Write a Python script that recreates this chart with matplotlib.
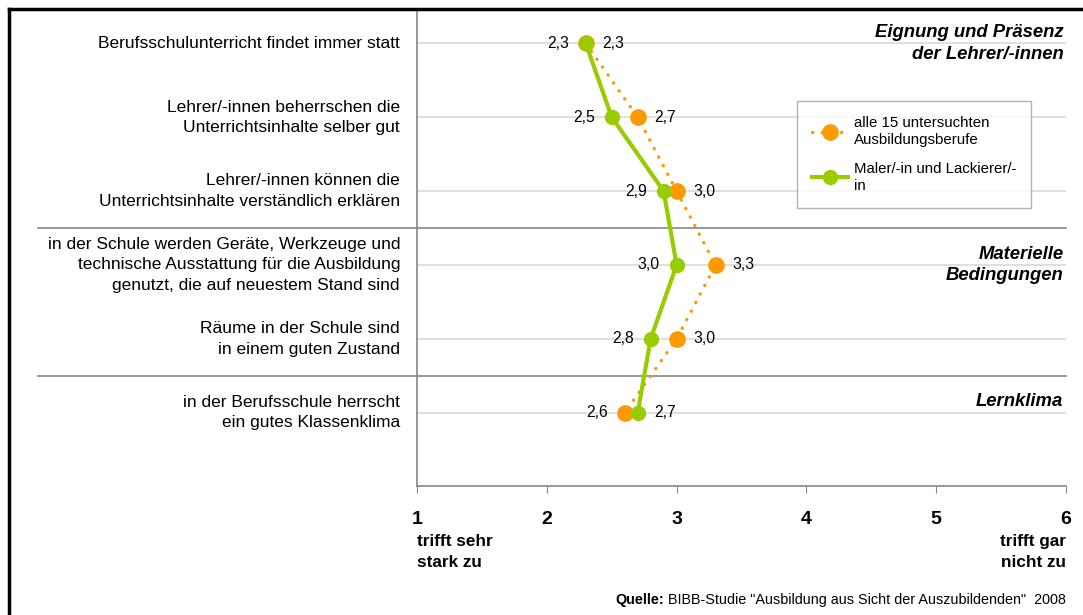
import matplotlib
matplotlib.use("Agg")
import matplotlib.pyplot as plt
from matplotlib.lines import Line2D

plt.rcParams['font.family'] = ['Liberation Sans', 'DejaVu Sans']

# --- data ---
items = [
    "Berufsschulunterricht findet immer statt",
    "Lehrer/-innen beherrschen die\nUnterrichtsinhalte selber gut",
    "Lehrer/-innen können die\nUnterrichtsinhalte verständlich erklären",
    "in der Schule werden Geräte, Werkzeuge und\ntechnische Ausstattung für die Ausbildung\ngenutzt, die auf neuestem Stand sind",
    "Räume in der Schule sind\nin einem guten Zustand",
    "in der Berufsschule herrscht\nein gutes Klassenklima",
]
alle_berufe = [2.3, 2.7, 3.0, 3.3, 3.0, 2.6]
maler = [2.3, 2.5, 2.9, 3.0, 2.8, 2.7]
series_names = ["alle 15 untersuchten\nAusbildungsberufe", "Maler/-in und Lackierer/-\nin"]
sections = ["Eignung und Präsenz\nder Lehrer/-innen", "Materielle\nBedingungen", "Lernklima"]
section_rows = [0, 3, 4.85]
section_breaks = [2.5, 4.5]
xticks = [1, 2, 3, 4, 5, 6]

ORANGE = '#FF9900'
GREEN = '#99CC00'
GRID = '#D9D9D9'
DARK = '#868686'

fig = plt.figure(figsize=(10.83, 6.15), dpi=100)
ax = fig.add_axes([417 / 1083, 1 - 486 / 615, (1066 - 417) / 1083, 476 / 615])

rows = list(range(len(items)))
ax.set_xlim(1, 6)
ax.set_ylim(5.99, -0.45)

# light gridlines at each item
for r in rows:
    ax.axhline(r, color=GRID, lw=1.2, zorder=0)

ax.plot(alle_berufe, rows, color=ORANGE, lw=2.4, ls=(0, (0.1, 2.8)), dash_capstyle='round',
        marker='o', ms=11, mec=ORANGE, zorder=2, label=series_names[0])
ax.plot(maler, rows, color=GREEN, lw=3, marker='o', ms=10, mec=GREEN, zorder=3,
        label=series_names[1])

# data labels: smaller value on the left
for r, a, m in zip(rows, alle_berufe, maler):
    a_right = a >= m
    ax.annotate(f"{a:.1f}".replace('.', ','), (a, r), xytext=(12 if a_right else -12, 0),
                textcoords='offset points', ha='left' if a_right else 'right', va='center',
                fontsize=11.3)
    ax.annotate(f"{m:.1f}".replace('.', ','), (m, r), xytext=(-12 if a_right else 12, 0),
                textcoords='offset points', ha='right' if a_right else 'left', va='center',
                fontsize=11.3)

# item labels on the left
for r, t in zip(rows, items):
    ax.text(-17 / 649, r, t, transform=ax.get_yaxis_transform(), ha='right', va='center',
            fontsize=12.5, linespacing=1.44)

# section breaks extend into label area
for b in section_breaks:
    ax.plot([-(417 - 38) / 649, 1], [b, b], transform=ax.get_yaxis_transform(),
            color=DARK, lw=1.2, clip_on=False, zorder=1)

# section titles
for r, s in zip(section_rows, sections):
    ax.text(0.996, r, s, transform=ax.get_yaxis_transform(), ha='right', va='center',
            fontsize=13.3, fontweight='bold', fontstyle='italic', linespacing=1.36)

# axes styling
for sp in ['top', 'right']:
    ax.spines[sp].set_visible(False)
for sp in ['left', 'bottom']:
    ax.spines[sp].set_color(DARK)
    ax.spines[sp].set_linewidth(1.2)
ax.set_yticks([])
ax.set_xticks(xticks)
ax.set_xticklabels([str(x) for x in xticks], fontsize=14, fontweight='bold')
ax.tick_params(axis='x', length=5, color=DARK, pad=13)

ax.text(0, -0.1, "trifft sehr\nstark zu", transform=ax.transAxes, ha='left', va='top',
        fontsize=12.3, fontweight='bold', linespacing=1.5)
ax.text(1, -0.1, "trifft gar\nnicht zu", transform=ax.transAxes, ha='right', va='top',
        fontsize=12.3, fontweight='bold', linespacing=1.5)

leg = ax.legend(loc='upper left', bbox_to_anchor=((797 - 417) / 649, 1 - (101 - 10) / 476),
                fontsize=10.8, frameon=True, fancybox=False, edgecolor='#A0A0A0',
                handlelength=2.4, labelspacing=1.0, borderpad=1.0, handletextpad=0.4,
                borderaxespad=0)
leg.get_frame().set_linewidth(1.0)
for t in leg.get_texts():
    t.set_linespacing(1.25)

# source line: bold prefix placed left of the normal text
src = fig.text(1066 / 1083, 1 - 600 / 615,
               'BIBB-Studie "Ausbildung aus Sicht der Auszubildenden"  2008',
               ha='right', va='center', fontsize=10.4)
fig.canvas.draw()
bb = src.get_window_extent()
fig.text((bb.x0 - 4) / 1083, 1 - 600 / 615, "Quelle:", ha='right', va='center',
         fontsize=10.4, fontweight='bold')

# outer black frame (left and top edges visible)
fig.add_artist(Line2D([9 / 1083, 9 / 1083], [0, 1 - 9 / 615], color='black', lw=2.5))
fig.add_artist(Line2D([9 / 1083, 1], [1 - 9 / 615, 1 - 9 / 615], color='black', lw=2.5))

fig.savefig('out.png', dpi=100)
